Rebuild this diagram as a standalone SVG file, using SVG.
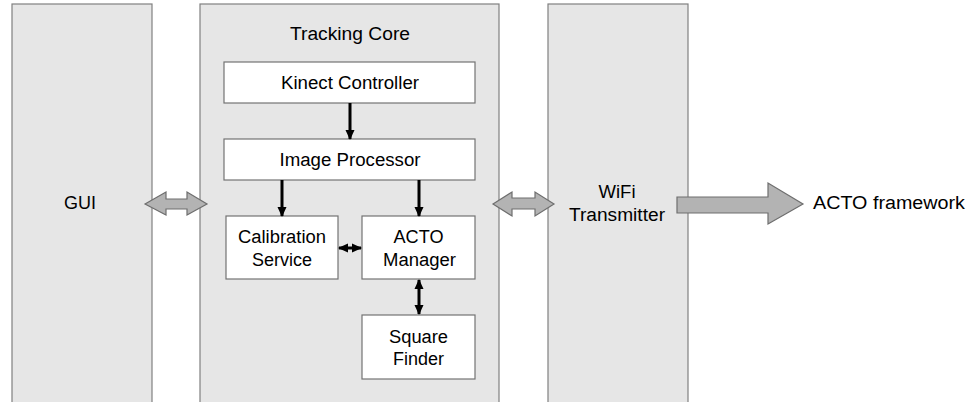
<svg xmlns="http://www.w3.org/2000/svg" width="974" height="402" viewBox="0 0 974 402">
  <style>
    .panel { fill: #e6e6e6; stroke: #808080; stroke-width: 1.2; }
    .box { fill: #ffffff; stroke: #737373; stroke-width: 1.2; }
    .big { fill: #b3b3b3; stroke: #6e6e6e; stroke-width: 1.2; stroke-linejoin: miter; }
    .link { stroke: #000000; stroke-width: 3; fill: none; }
    text { font-family: "Liberation Sans", Arial, sans-serif; font-size: 18px; fill: #000000; text-anchor: middle; }
  </style>
  <defs>
    <marker id="head" markerUnits="userSpaceOnUse" markerWidth="10" markerHeight="10" viewBox="0 0 10 10" refX="9" refY="5" orient="auto-start-reverse">
      <path d="M0,0.5 L10,5 L0,9.5 Z" fill="#000000"/>
    </marker>
  </defs>

  <!-- Panels -->
  <g id="gui">
    <rect class="panel" x="12" y="4" width="140" height="410"/>
    <text x="80" y="209" textLength="32" lengthAdjust="spacingAndGlyphs">GUI</text>
  </g>
  <g id="tracking-core">
    <rect class="panel" x="200" y="4" width="299" height="410"/>
    <text x="350" y="40" textLength="120" lengthAdjust="spacingAndGlyphs">Tracking Core</text>
  </g>
  <g id="wifi-transmitter">
    <rect class="panel" x="548" y="4" width="140" height="410"/>
    <text x="617" y="198" textLength="37" lengthAdjust="spacingAndGlyphs">WiFi</text>
    <text x="617" y="221" textLength="96" lengthAdjust="spacingAndGlyphs">Transmitter</text>
  </g>

  <!-- Components inside the tracking core -->
  <g id="kinect-controller">
    <rect class="box" x="224" y="62" width="251" height="41"/>
    <text x="350" y="89" textLength="138" lengthAdjust="spacingAndGlyphs">Kinect Controller</text>
  </g>
  <g id="image-processor">
    <rect class="box" x="224" y="139" width="251" height="41"/>
    <text x="350" y="166" textLength="141" lengthAdjust="spacingAndGlyphs">Image Processor</text>
  </g>
  <g id="calibration-service">
    <rect class="box" x="226" y="216" width="112" height="63"/>
    <text x="282" y="243" textLength="88" lengthAdjust="spacingAndGlyphs">Calibration</text>
    <text x="282" y="266" textLength="60" lengthAdjust="spacingAndGlyphs">Service</text>
  </g>
  <g id="acto-manager">
    <rect class="box" x="362" y="216" width="113" height="63"/>
    <text x="418.5" y="243" textLength="50" lengthAdjust="spacingAndGlyphs">ACTO</text>
    <text x="419.5" y="266" textLength="73" lengthAdjust="spacingAndGlyphs">Manager</text>
  </g>
  <g id="square-finder">
    <rect class="box" x="362" y="315" width="113" height="64"/>
    <text x="418.5" y="343" textLength="59" lengthAdjust="spacingAndGlyphs">Square</text>
    <text x="418.5" y="365" textLength="51" lengthAdjust="spacingAndGlyphs">Finder</text>
  </g>

  <g id="acto-framework">
    <text x="889" y="209" textLength="152" lengthAdjust="spacingAndGlyphs">ACTO framework</text>
  </g>

  <!-- Connectors -->
  <g id="connectors">
    <polygon class="big" points="145,204 166,192 166,199 187,199 187,192 207,204 187,215 187,209 166,209 166,215"/>
    <polygon class="big" points="493,204 512,192 512,198 535,198 535,192 554,204 535,216 535,209 512,209 512,216"/>
    <polygon class="big" points="677,197 768,197 768,183 803,204 768,224 768,213 677,213"/>

    <line class="link" x1="350" y1="103" x2="350" y2="139" marker-end="url(#head)"/>
    <line class="link" x1="282" y1="180" x2="282" y2="216" marker-end="url(#head)"/>
    <line class="link" x1="419" y1="180" x2="419" y2="216" marker-end="url(#head)"/>
    <line class="link" x1="339" y1="248" x2="361" y2="248" marker-start="url(#head)" marker-end="url(#head)"/>
    <line class="link" x1="419" y1="280" x2="419" y2="314" marker-start="url(#head)" marker-end="url(#head)"/>
  </g>
</svg>
